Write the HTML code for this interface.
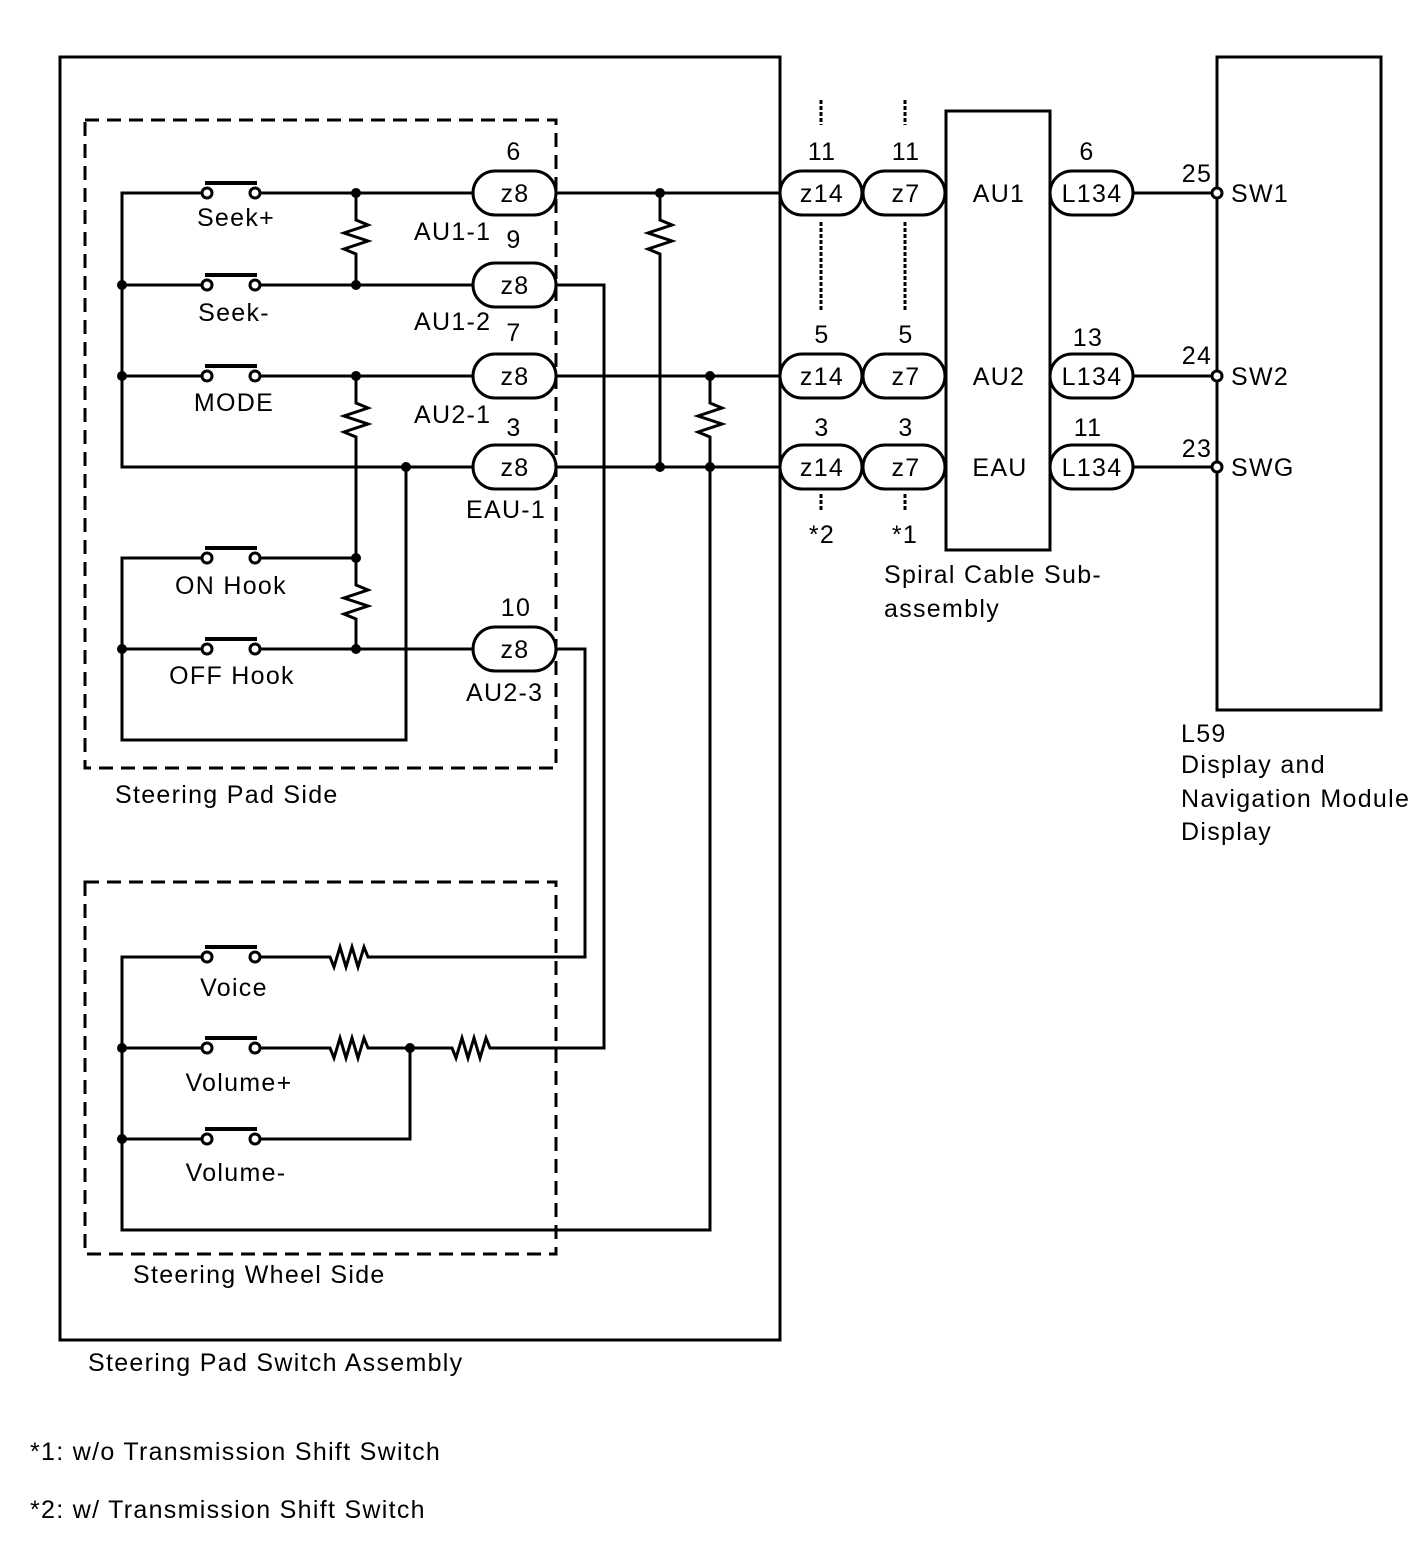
<!DOCTYPE html>
<html><head><meta charset="utf-8"><style>
html,body{margin:0;padding:0;background:#fff}
svg{display:block}
text{font-family:"Liberation Sans",Arial,sans-serif;font-size:25px;letter-spacing:1.3px;fill:#000}
</style></head><body>
<svg width="1424" height="1562" viewBox="0 0 1424 1562" xmlns="http://www.w3.org/2000/svg">
<g fill="none" stroke="#000" stroke-width="3">
<rect x="60" y="57" width="720" height="1283"/>
<rect x="85" y="120" width="471" height="648" stroke-dasharray="14,8"/>
<rect x="85" y="882" width="471" height="372" stroke-dasharray="14,8"/>
<rect x="1217" y="57" width="164" height="653"/>
<rect x="946" y="111" width="104" height="439"/>

<path d="M202,193 H122 V467 H473"/>
<path d="M122,285 H202 M122,376 H202"/>
<path d="M260,193 H473 M260,285 H473 M260,376 H473"/>
<path d="M356,193 V220 l12,5 l-24,8 l24,8 l-24,8 l12,5 V285"/>
<path d="M356,376 V403 l12,5 l-24,8 l24,8 l-24,8 l12,5 V558 V585 l12,5 l-24,8 l24,8 l-24,8 l12,5 V649"/>
<path d="M202,558 H122 V740 H406 V467"/>
<path d="M260,558 H356"/>
<path d="M122,649 H202 M260,649 H473"/>
<path d="M556,193 H780 M556,376 H780 M556,467 H780"/>
<path d="M660,193 V220 l12,5 l-24,8 l24,8 l-24,8 l12,5 V467"/>
<path d="M710,376 V403 l12,5 l-24,8 l24,8 l-24,8 l12,5 V1230 H122 V957 H202"/>
<path d="M556,285 H604 V1048 H490 l-4,-10 l-6,20 l-6,-20 l-6,20 l-6,-20 l-6,20 l-4,-10 H410 H368 l-4,-10 l-6,20 l-6,-20 l-6,20 l-6,-20 l-6,20 l-4,-10 H260"/>
<path d="M556,649 H585 V957 H368 l-4,-10 l-6,20 l-6,-20 l-6,20 l-6,-20 l-6,20 l-4,-10 H260"/>
<path d="M122,1048 H202 M122,1139 H202 M260,1139 H410 V1048"/>
<g fill="#fff">
<circle cx="207" cy="193" r="5"/><circle cx="255" cy="193" r="5"/>
<circle cx="207" cy="285" r="5"/><circle cx="255" cy="285" r="5"/>
<circle cx="207" cy="376" r="5"/><circle cx="255" cy="376" r="5"/>
<circle cx="207" cy="558" r="5"/><circle cx="255" cy="558" r="5"/>
<circle cx="207" cy="649" r="5"/><circle cx="255" cy="649" r="5"/>
<circle cx="207" cy="957" r="5"/><circle cx="255" cy="957" r="5"/>
<circle cx="207" cy="1048" r="5"/><circle cx="255" cy="1048" r="5"/>
<circle cx="207" cy="1139" r="5"/><circle cx="255" cy="1139" r="5"/>
</g>
<path stroke-width="4" d="M205,183 H257 M205,275 H257 M205,366 H257 M205,548 H257 M205,639 H257 M205,947 H257 M205,1038 H257 M205,1129 H257"/>
<g fill="#fff">
<rect x="473" y="171" width="83" height="44" rx="22"/>
<rect x="473" y="263" width="83" height="44" rx="22"/>
<rect x="473" y="354" width="83" height="44" rx="22"/>
<rect x="473" y="445" width="83" height="44" rx="22"/>
<rect x="473" y="627" width="83" height="44" rx="22"/>
<rect x="780" y="171" width="82" height="44" rx="22"/>
<rect x="863" y="171" width="82" height="44" rx="22"/>
<rect x="780" y="354" width="82" height="44" rx="22"/>
<rect x="863" y="354" width="82" height="44" rx="22"/>
<rect x="780" y="445" width="82" height="44" rx="22"/>
<rect x="863" y="445" width="82" height="44" rx="22"/>
<rect x="1050" y="171" width="83" height="44" rx="22"/>
<rect x="1050" y="354" width="83" height="44" rx="22"/>
<rect x="1050" y="445" width="83" height="44" rx="22"/>
</g>
<path d="M1133,193 H1212 M1133,376 H1212 M1133,467 H1212"/>
<g fill="#fff"><circle cx="1217" cy="193" r="5"/><circle cx="1217" cy="376" r="5"/><circle cx="1217" cy="467" r="5"/></g>
<path stroke-dasharray="4,2" d="M821,100 V125 M905,100 V125 M821,222 V312 M905,222 V312 M821,494 V512 M905,494 V512"/>
</g>
<g fill="#000">
<circle cx="356" cy="193" r="5"/><circle cx="356" cy="285" r="5"/><circle cx="122" cy="285" r="5"/>
<circle cx="122" cy="376" r="5"/><circle cx="356" cy="376" r="5"/><circle cx="406" cy="467" r="5"/>
<circle cx="356" cy="558" r="5"/><circle cx="356" cy="649" r="5"/><circle cx="122" cy="649" r="5"/>
<circle cx="660" cy="193" r="5"/><circle cx="660" cy="467" r="5"/><circle cx="710" cy="376" r="5"/><circle cx="710" cy="467" r="5"/>
<circle cx="122" cy="1048" r="5"/><circle cx="122" cy="1139" r="5"/><circle cx="410" cy="1048" r="5"/>
</g>
<g text-anchor="middle">
<text x="236" y="226">Seek+</text><text x="234" y="321">Seek-</text><text x="234" y="411">MODE</text>
<text x="231" y="594">ON Hook</text><text x="232" y="684">OFF Hook</text>
<text x="234" y="996">Voice</text><text x="239" y="1091">Volume+</text><text x="236" y="1181">Volume-</text>
<text x="515" y="202">z8</text><text x="515" y="294">z8</text><text x="515" y="385">z8</text><text x="515" y="476">z8</text><text x="515" y="658">z8</text>
<text x="514" y="160">6</text><text x="514" y="248">9</text><text x="514" y="341">7</text><text x="514" y="436">3</text><text x="516" y="616">10</text>
<text x="822" y="202">z14</text><text x="906" y="202">z7</text><text x="822" y="385">z14</text><text x="906" y="385">z7</text><text x="822" y="476">z14</text><text x="906" y="476">z7</text>
<text x="822" y="160">11</text><text x="906" y="160">11</text><text x="822" y="343">5</text><text x="906" y="343">5</text><text x="822" y="436">3</text><text x="906" y="436">3</text>
<text x="822" y="543">*2</text><text x="905" y="543">*1</text>
<text x="999" y="202">AU1</text><text x="999" y="385">AU2</text><text x="1000" y="476">EAU</text>
<text x="1092" y="202">L134</text><text x="1092" y="385">L134</text><text x="1092" y="476">L134</text>
<text x="1087" y="160">6</text><text x="1088" y="346">13</text><text x="1088" y="436">11</text>
<text x="1197" y="182">25</text><text x="1197" y="364">24</text><text x="1197" y="457">23</text>
</g>
<text x="414" y="240">AU1-1</text><text x="414" y="330">AU1-2</text><text x="414" y="423">AU2-1</text>
<text x="466" y="518">EAU-1</text><text x="466" y="701">AU2-3</text>
<text x="1231" y="202">SW1</text><text x="1231" y="385">SW2</text><text x="1231" y="476">SWG</text>
<text x="884" y="583">Spiral Cable Sub-</text><text x="884" y="617">assembly</text>
<text x="1181" y="742">L59</text><text x="1181" y="773">Display and</text><text x="1181" y="807">Navigation Module</text><text x="1181" y="840">Display</text>
<text x="115" y="803">Steering Pad Side</text>
<text x="133" y="1283">Steering Wheel Side</text>
<text x="88" y="1371">Steering Pad Switch Assembly</text>
<text x="30" y="1460">*1: w/o Transmission Shift Switch</text>
<text x="30" y="1518">*2: w/ Transmission Shift Switch</text>
</svg>
</body></html>
